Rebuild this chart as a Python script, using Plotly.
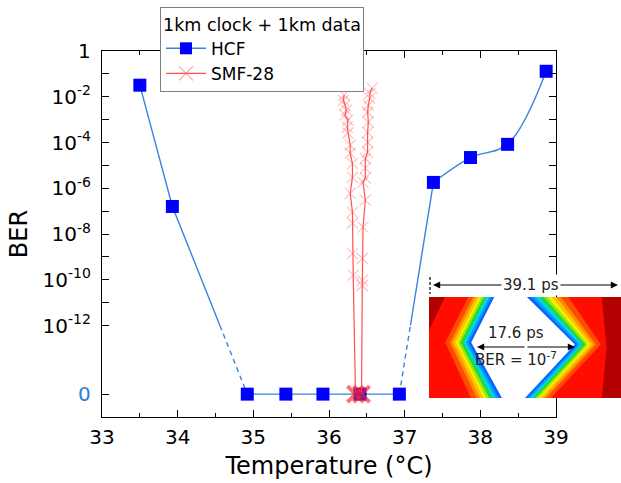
import plotly.graph_objects as go

# ---------------- data ----------------
hcf_temp = [33.50, 33.93, 34.92, 35.43, 35.92, 36.41, 36.93, 37.38, 37.87, 38.36, 38.87]
hcf_ber = [3.2e-2, 1.6e-7, 0, 0, 0, 0, 0, 1.8e-6, 2.2e-5, 8.3e-5, 1.3e-1]

smf_left_temp = [36.20, 36.19, 36.21, 36.23, 36.21, 36.25, 36.24, 36.25, 36.28, 36.28,
                 36.31, 36.31, 36.28, 36.31, 36.31, 36.31, 36.32, 36.35]
smf_left_ber = [1.2e-2, 7e-3, 4.3e-3, 2.6e-3, 1.6e-3, 9.5e-4, 4.7e-4, 2.6e-4, 7.6e-5, 3.4e-5,
                1.2e-5, 3.0e-6, 6.0e-7, 8.9e-8, 3.0e-8, 1.4e-9, 1.6e-10, 0]
smf_right_temp = [36.57, 36.54, 36.54, 36.52, 36.51, 36.52, 36.51, 36.51, 36.51, 36.48,
                  36.48, 36.48, 36.45, 36.48, 36.45, 36.44, 36.44, 36.44, 36.43]
smf_right_ber = [2.4e-2, 1.4e-2, 8.7e-3, 4.3e-3, 2.1e-3, 7.8e-4, 2.8e-4, 1.0e-4, 3.8e-5, 2.0e-5,
                 7.6e-6, 2.8e-6, 1.8e-6, 3.0e-7, 2.0e-8, 8.5e-10, 9.3e-11, 5.6e-11, 0]

y_tick_exps = [0, -2, -4, -6, -8, -10, -12]
y_minor_exps = [-1, -3, -5, -7, -9, -11]
x_ticks = [33, 34, 35, 36, 37, 38, 39]

legend_title = "1km clock + 1km data"
series_names = ["HCF", "SMF-28"]

# ---------------- mapping (broken log axis) ----------------
ZERO_POS = -15      # where BER = 0 is drawn
BREAK = -12         # axis break level (dashed line below)


def ypos(b):
    import math
    return math.log10(b) if b > 0 else ZERO_POS


hy = [ypos(b) for b in hcf_ber]
sly = [ypos(b) for b in smf_left_ber]
sry = [ypos(b) for b in smf_right_ber]


def brk(x1, y1, x2, y2, level):
    t = (level - y1) / (y2 - y1)
    return x1 + t * (x2 - x1)


FONT = "DejaVu Sans"
HCF_LINE = "#3b82e0"
HCF_MARK = "#0000ff"
SMF_LINE = "rgba(255,60,60,0.9)"
SMF_MARK = "rgba(255,90,90,0.55)"
ZERO_BLUE = "#2a7de1"

fig = go.Figure()

# legend-only entries
fig.add_trace(go.Scatter(x=[None], y=[None], mode="lines+markers", name=series_names[0],
                         line=dict(color=HCF_LINE, width=1.4),
                         marker=dict(symbol="square", size=12, color=HCF_MARK)))
fig.add_trace(go.Scatter(x=[None], y=[None], mode="lines+markers", name=series_names[1],
                         line=dict(color=SMF_LINE, width=1.2),
                         marker=dict(symbol="x-thin", size=14, line=dict(width=1.2, color=SMF_MARK))))

# HCF line pieces
xb1 = brk(hcf_temp[1], hy[1], hcf_temp[2], hy[2], BREAK)
xb2 = brk(hcf_temp[6], hy[6], hcf_temp[7], hy[7], BREAK)
seg = dict(mode="lines", showlegend=False, hoverinfo="skip")
fig.add_trace(go.Scatter(x=hcf_temp[0:2] + [xb1], y=hy[0:2] + [BREAK],
                         line=dict(color=HCF_LINE, width=1.4), **seg))
fig.add_trace(go.Scatter(x=[xb1, hcf_temp[2]], y=[BREAK, hy[2]],
                         line=dict(color=HCF_LINE, width=1.4, dash="5px,4px"), **seg))
fig.add_trace(go.Scatter(x=hcf_temp[2:7], y=hy[2:7],
                         line=dict(color=HCF_LINE, width=1.4), **seg))
fig.add_trace(go.Scatter(x=[hcf_temp[6], xb2], y=[hy[6], BREAK],
                         line=dict(color=HCF_LINE, width=1.4, dash="5px,4px"), **seg))
fig.add_trace(go.Scatter(x=[xb2, hcf_temp[7]], y=[BREAK, hy[7]],
                         line=dict(color=HCF_LINE, width=1.4), **seg))
fig.add_trace(go.Scatter(x=hcf_temp[7:], y=hy[7:],
                         line=dict(color=HCF_LINE, width=1.4, shape="spline", smoothing=1.0), **seg))
# HCF markers
fig.add_trace(go.Scatter(x=hcf_temp, y=hy, mode="markers", showlegend=False,
                         marker=dict(symbol="square", size=13, color=HCF_MARK,
                                     line=dict(width=0))))


# SMF-28 branches
def smf_trace(xs, ys):
    n = len(xs)
    sizes = [11] * (n - 1) + [16]
    widths = [1.1] * (n - 1) + [4]
    cols = [SMF_MARK] * (n - 1) + ["rgba(255,40,40,0.95)"]
    return go.Scatter(x=xs, y=ys, mode="lines+markers", showlegend=False,
                      line=dict(color=SMF_LINE, width=1.2),
                      marker=dict(symbol="x-thin", size=sizes,
                                  line=dict(width=widths, color=cols)))


fig.add_trace(smf_trace(smf_left_temp, sly))
fig.add_trace(smf_trace(smf_right_temp, sry))

# ---------------- geometry helpers (pixels -> paper) ----------------
W, H = 621, 483
L, R, T, B = 102, 556, 51, 417


def px(xp):
    return (xp - L) / (R - L)


def py(yp):
    return (B - yp) / (B - T)


# ---------------- inset eye diagram (decorative picture) ----------------
IX0, IX1, IY0, IY1 = 429, 621, 297, 398


def ins(u, v):
    return px(IX0 + u * (IX1 - IX0)), py(IY1 - v * (IY1 - IY0))


def poly(pts, col):
    pth = "M " + " L ".join("%.5f,%.5f" % ins(u, v) for u, v in pts) + " Z"
    return dict(type="path", xref="paper", yref="paper", path=pth,
                fillcolor=col, line=dict(width=0), layer="above")


shapes = [dict(type="rect", xref="paper", yref="paper",
               x0=px(IX0), x1=px(IX1), y0=py(IY1), y1=py(IY0),
               fillcolor="#b30000", line=dict(width=0), layer="above")]
# outer red region
shapes.append(poly([(0.083, 1.0), (0.90, 1.0), (0.925, 0.5), (0.90, 0.0),
                    (0.0, 0.0), (0.0, 0.67)], "#ff0d00"))
bands = [("#ff4d00", 0.135), ("#ff8c00", 0.11), ("#ffc000", 0.095),
         ("#f2f200", 0.08), ("#a0e800", 0.068), ("#20d840", 0.055), ("#00d8e8", 0.04),
         ("#00a0ff", 0.027), ("#1060ff", 0.014), ("#ffffff", 0.0)]
for col, d in bands:
    shapes.append(poly([(0.34 - d, 1.0), (0.51 + 1.6 * d, 1.0), (0.76 + d, 0.53),
                        (0.50 + d, 0.0), (0.38 - 1.2 * d, 0.0), (0.22 - d, 0.55)], col))
# dashed marker at left of the 39.1 ps arrow
shapes.append(dict(type="line", xref="paper", yref="paper", x0=px(430), x1=px(430),
                   y0=py(277), y1=py(294), line=dict(color="black", width=1.2, dash="3px,2px"),
                   layer="above"))

ann = []
arrow = dict(xref="paper", yref="paper", text="", showarrow=True, arrowhead=2,
             arrowsize=1.2, arrowwidth=1.2, arrowcolor="black", ay=0,
             xanchor="center", yanchor="middle")
ann.append(dict(x=px(433), y=py(285), ax=98, **arrow))
ann.append(dict(x=px(618), y=py(285), ax=-87, **arrow))
ann.append(dict(x=px(477), y=py(347), ax=49, **arrow))
ann.append(dict(x=px(575), y=py(347), ax=-49, **arrow))
txt = dict(xref="paper", yref="paper", showarrow=False, xanchor="center", yanchor="middle",
           font=dict(family=FONT, size=15, color="#222"))
ann.append(dict(x=px(531), y=py(285), text="39.1 ps", bgcolor="white", borderpad=1, **txt))
ann.append(dict(x=px(516), y=py(333), text="17.6 ps", **txt))
ann.append(dict(x=px(516), y=py(359), text="BER = 10<sup>-7</sup>", **txt))

# ---------------- axes ----------------
ytickvals = y_tick_exps + [ZERO_POS]
yticktext = ["1" if e == 0 else "10<sup>%d</sup>" % e for e in y_tick_exps] + \
            ["<span style='color:%s'>0</span>" % ZERO_BLUE]

axis_common = dict(showline=True, linecolor="black", linewidth=1.3, mirror="ticks",
                   ticks="inside", tickcolor="black", tickwidth=1.3, ticklen=7,
                   showgrid=False, zeroline=False,
                   tickfont=dict(family=FONT, size=20, color="black"))

fig.update_xaxes(range=[33, 39], tickmode="array", tickvals=x_ticks,
                 minor=dict(dtick=0.5, tick0=33, ticklen=4, ticks="inside", tickcolor="black", tickwidth=1.3),
                 title=dict(text="Temperature (°C)", font=dict(family=FONT, size=24, color="black"), standoff=9),
                 ticklabelstandoff=2, **axis_common)
fig.update_yaxes(range=[-16, 0], tickmode="array", tickvals=ytickvals, ticktext=yticktext,
                 minor=dict(tickvals=y_minor_exps, ticklen=7, ticks="inside", tickcolor="black", tickwidth=1.3),
                 title=dict(text="BER", font=dict(family=FONT, size=24, color="black"), standoff=8),
                 ticklabelstandoff=6, **axis_common)

fig.update_layout(
    width=W, height=H,
    margin=dict(l=L, r=W - R, t=T, b=H - B, autoexpand=False),
    paper_bgcolor="white", plot_bgcolor="white",
    font=dict(family=FONT, color="black"),
    showlegend=True,
    legend=dict(x=px(160), y=py(7), xanchor="left", yanchor="top", xref="paper", yref="paper",
                title=dict(text=legend_title, font=dict(family=FONT, size=17.5, color="black")),
                font=dict(family=FONT, size=17, color="black"),
                bgcolor="white", bordercolor="#808080", borderwidth=1,
                itemwidth=40, tracegroupgap=0),
    shapes=shapes, annotations=ann,
)

fig.write_html("out.html", config={"displayModeBar": False},
               post_script="document.body.style.margin='0px';")
